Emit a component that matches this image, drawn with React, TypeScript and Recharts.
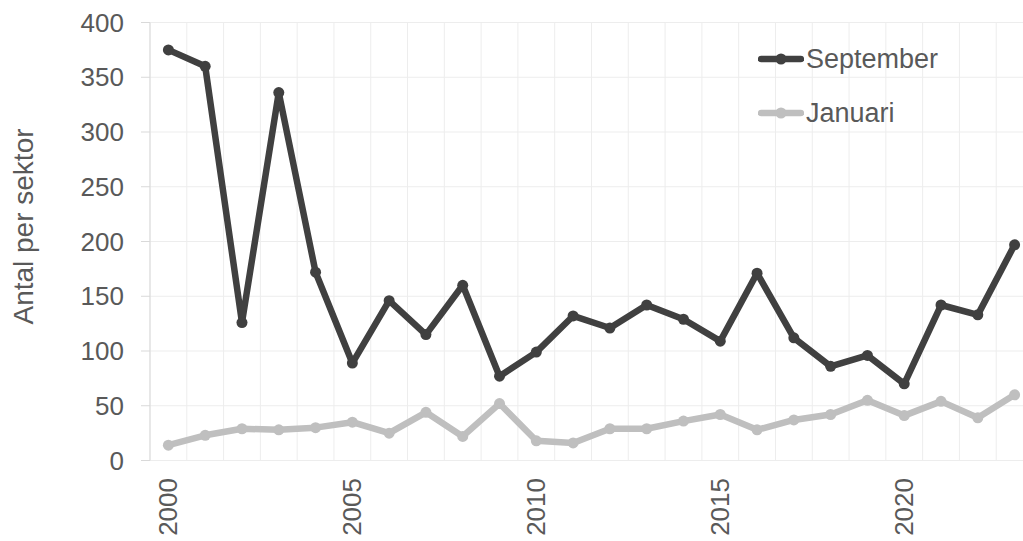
import React from 'react';
import { LineChart, Line, XAxis, YAxis, CartesianGrid, Legend } from 'recharts';

const years = [2000, 2001, 2002, 2003, 2004, 2005, 2006, 2007, 2008, 2009, 2010, 2011, 2012, 2013, 2014, 2015, 2016, 2017, 2018, 2019, 2020, 2021, 2022, 2023];
const september = [375, 360, 126, 336, 172, 89, 146, 115, 160, 77, 99, 132, 121, 142, 129, 109, 171, 112, 86, 96, 70, 142, 133, 197];
const januari = [14, 23, 29, 28, 30, 35, 25, 44, 22, 52, 18, 16, 29, 29, 36, 42, 28, 37, 42, 55, 41, 54, 39, 60];
const yTicks = [0, 50, 100, 150, 200, 250, 300, 350, 400];
const xLabelTicks = [2000, 2005, 2010, 2015, 2020];
const seriesNames = ['September', 'Januari'];
const seriesColors = ['#404040', '#BFBFBF'];

const data = years.map((year, i) => ({ year, September: september[i], Januari: januari[i] }));
const gridTicks = years.map((y) => y - 0.5).concat([years[years.length - 1] + 0.5]);
const xDomain = [years[0] - 0.5, years[years.length - 1] + 0.5];

const FONT = '"Liberation Sans", Arial, sans-serif';
const TEXT = '#595959';

const XTick = (props: any) => {
  const { x, y, payload } = props;
  return (
    <text
      x={x}
      y={y}
      transform={`rotate(-90 ${x} ${y})`}
      textAnchor="end"
      dominantBaseline="central"
      fill={TEXT}
      fontSize={26}
      fontFamily={FONT}
    >
      {payload.value}
    </text>
  );
};

const EmptyTick = () => <g />;

const LegendContent = () => (
  <div style={{ fontFamily: FONT, color: TEXT, fontSize: 27 }}>
    {seriesNames.map((name, i) => (
      <div key={name} style={{ display: 'flex', alignItems: 'center', height: 54 }}>
        <svg width={46} height={14} style={{ display: 'block' }}>
          <line x1={3} y1={7} x2={43} y2={7} stroke={seriesColors[i]} strokeWidth={6.5} strokeLinecap="round" />
          <circle cx={23} cy={7} r={5.5} fill={seriesColors[i]} />
        </svg>
        <span style={{ marginLeft: 2, lineHeight: '30px' }}>{name}</span>
      </div>
    ))}
  </div>
);

export default function App() {
  return (
    <div style={{ width: 1023, height: 541, overflow: 'hidden', position: 'relative', background: '#fff' }}>
      <style>{`body{margin:0;overflow:hidden;background:#fff}`}</style>
      <LineChart
        width={1040}
        height={541}
        data={data}
        margin={{ top: 22.5, right: 7, left: 0, bottom: 0.5 }}
      >
        <CartesianGrid xAxisId="grid" stroke="#EDEDED" strokeWidth={1} />
        <XAxis
          xAxisId="grid"
          dataKey="year"
          type="number"
          domain={xDomain}
          ticks={gridTicks}
          tick={<EmptyTick />}
          tickSize={7}
          tickLine={{ stroke: '#D9D9D9', strokeWidth: 1 }}
          axisLine={{ stroke: '#D9D9D9', strokeWidth: 1 }}
          height={0}
          interval={0}
          allowDataOverflow
        />
        <XAxis
          xAxisId="labels"
          dataKey="year"
          type="number"
          domain={xDomain}
          ticks={xLabelTicks}
          tick={<XTick />}
          tickLine={false}
          axisLine={false}
          tickSize={0}
          tickMargin={17.5}
          height={80}
          interval={0}
        />
        <YAxis
          domain={[0, 400]}
          ticks={yTicks}
          width={150}
          tickSize={9}
          tickMargin={17}
          tickLine={{ stroke: '#D9D9D9', strokeWidth: 1 }}
          axisLine={{ stroke: '#D9D9D9', strokeWidth: 1 }}
          tick={{ fill: TEXT, fontSize: 26, fontFamily: FONT }}
          interval={0}
          label={(props: any) => {
            const vb = props.viewBox || { x: 0, y: 22.5, width: 150, height: 438 };
            const cx = vb.x + 23;
            const cy = vb.y + vb.height / 2 - 15;
            return (
              <text
                x={cx}
                y={cy}
                transform={`rotate(-90 ${cx} ${cy})`}
                textAnchor="middle"
                dominantBaseline="central"
                fill={TEXT}
                fontSize={28}
                fontFamily={FONT}
              >
                Antal per sektor
              </text>
            );
          }}
        />
        <Legend
          layout="vertical"
          align="center"
          verticalAlign="middle"
          content={<LegendContent />}
          wrapperStyle={{ position: 'absolute', left: 758, top: 32, width: 230, height: 108 }}
        />
        <Line
          xAxisId="grid"
          type="linear"
          dataKey="Januari"
          stroke={seriesColors[1]}
          strokeWidth={6.5}
          strokeLinejoin="round"
          dot={{ r: 5.5, fill: seriesColors[1], stroke: seriesColors[1], strokeWidth: 0 }}
          activeDot={false}
          isAnimationActive={false}
        />
        <Line
          xAxisId="grid"
          type="linear"
          dataKey="September"
          stroke={seriesColors[0]}
          strokeWidth={6.5}
          strokeLinejoin="round"
          dot={{ r: 5.5, fill: seriesColors[0], stroke: seriesColors[0], strokeWidth: 0 }}
          activeDot={false}
          isAnimationActive={false}
        />
      </LineChart>
    </div>
  );
}
